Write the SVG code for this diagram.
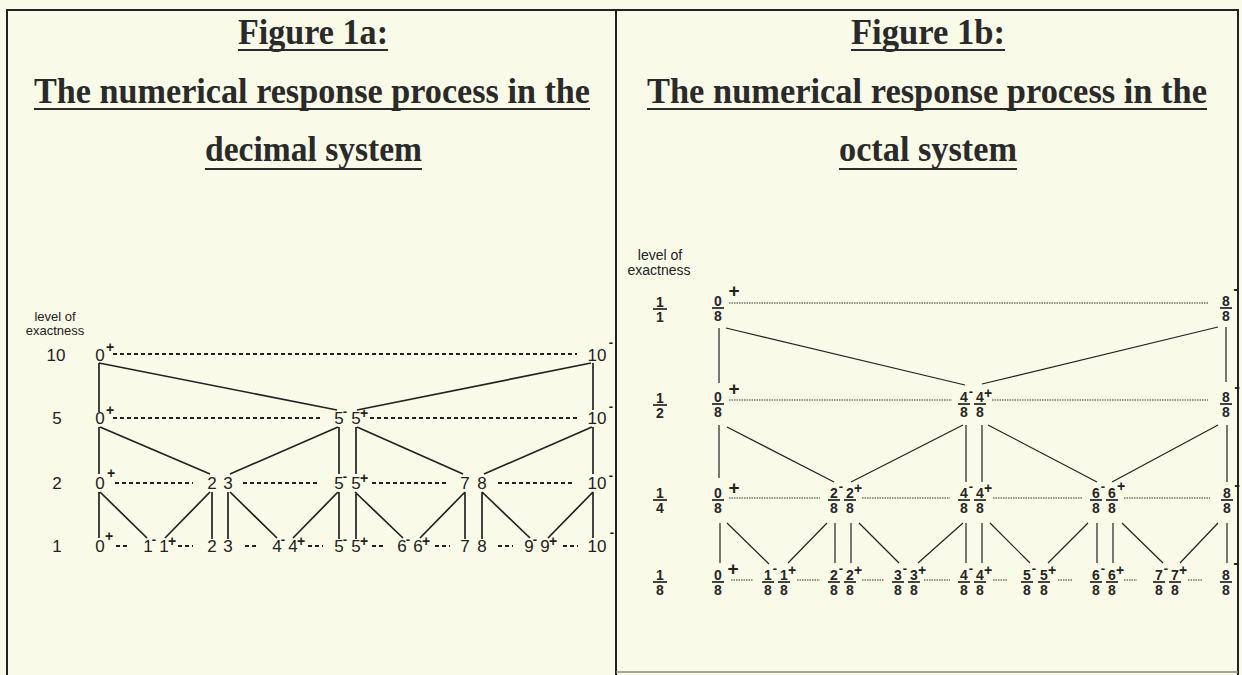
<svg xmlns="http://www.w3.org/2000/svg" width="1242" height="675" viewBox="0 0 1242 675">
<style>
.t{font-family:"Liberation Serif","Times New Roman",serif;font-weight:bold;font-size:35px;fill:#2a2a2a}
.u{stroke:#2a2a2a;stroke-width:2.2}
.n{font-family:"Liberation Sans",Arial,sans-serif;font-size:17px;fill:#222;text-anchor:middle}
.sp{font-family:"Liberation Sans",Arial,sans-serif;font-size:14px;font-weight:bold;fill:#222;text-anchor:middle}
.sm{font-family:"Liberation Sans",Arial,sans-serif;font-size:13px;font-weight:bold;fill:#222;text-anchor:middle}
.f{font-family:"Liberation Sans",Arial,sans-serif;font-size:14px;font-weight:bold;fill:#262626;text-anchor:middle}
.bp{font-family:"Liberation Sans",Arial,sans-serif;font-size:19px;font-weight:bold;fill:#222;text-anchor:middle}
.bm{font-family:"Liberation Sans",Arial,sans-serif;font-size:17px;font-weight:bold;fill:#222;text-anchor:middle}
.lv{font-family:"Liberation Sans",Arial,sans-serif;fill:#222;text-anchor:middle}
.fb{stroke:#222;stroke-width:1.7}
.c{stroke:#222;stroke-width:1.7;fill:none}
.cr{stroke:#222;stroke-width:1.2;fill:none}
.d{stroke:#222;stroke-width:1.8;stroke-dasharray:4 3;fill:none}
.dt{stroke:#333;stroke-width:1.1;stroke-dasharray:1.5 1;fill:none}
.frame{stroke:#222;stroke-width:2;fill:none}
</style>
<rect x="0" y="0" width="1242" height="675" fill="#fafae8"/>
<g id="frame">
<path class="frame" d="M7 675 V10 H1238 V675 M616 10 V675"/>
<path d="M616 672 H1238" stroke="#888" stroke-width="1.5"/>
</g>
<g id="title-a">
<text class="t" x="238" y="44" textLength="150" lengthAdjust="spacingAndGlyphs">Figure 1a:</text>
<line class="u" x1="238" y1="50" x2="388" y2="50"/>
<text class="t" x="34" y="103" textLength="556" lengthAdjust="spacingAndGlyphs">The numerical response process in the</text>
<line class="u" x1="34" y1="109" x2="590" y2="109"/>
<text class="t" x="205" y="161" textLength="217" lengthAdjust="spacingAndGlyphs">decimal system</text>
<line class="u" x1="205" y1="169" x2="422" y2="169"/>
</g>
<g id="title-b">
<text class="t" x="851" y="44" textLength="154" lengthAdjust="spacingAndGlyphs">Figure 1b:</text>
<line class="u" x1="851" y1="50" x2="1005" y2="50"/>
<text class="t" x="647" y="103" textLength="560" lengthAdjust="spacingAndGlyphs">The numerical response process in the</text>
<line class="u" x1="647" y1="109" x2="1207" y2="109"/>
<text class="t" x="839" y="161" textLength="178" lengthAdjust="spacingAndGlyphs">octal system</text>
<line class="u" x1="839" y1="169" x2="1017" y2="169"/>
</g>

<!-- LEFT: decimal -->
<g id="a-levels">
<text class="lv" x="55" y="321" font-size="13">level of</text>
<text class="lv" x="55" y="335" font-size="13">exactness</text>
<text class="n" x="56" y="361">10</text>
<text class="n" x="57" y="424">5</text>
<text class="n" x="57" y="489">2</text>
<text class="n" x="57" y="552">1</text>
</g>
<g id="a-connectors">
<path class="d" d="M113 354 H577"/>
<path class="d" d="M113 418 H323 M370 418 H577"/>
<path class="d" d="M115 483 H193 M243 483 H320 M372 483 H447 M498 483 H575"/>
<path class="d" d="M116 546 H128 M178 546 H193 M245 546 H257 M308 546 H323 M372 546 H385 M435 546 H450 M498 546 H513 M563 546 H578"/>
<path class="c" d="M99 363 V412 M593 363 V410 M99 363 L337 410 M591 363 L357 410"/>
<path class="c" d="M99 427 V474 M593 427 V474 M100 427 L210 474 M338 427 L230 474 M339 427 V474 M356 427 V474 M357 427 L463 474 M592 427 L484 474"/>
<path class="c" d="M99 492 V538 M100 492 L147 538 M210 492 L165 538 M212 492 V539 M228 492 V539 M230 492 L277 538 M338 492 L293 538 M339 492 V539 M356 492 V539 M355 492 L403 538 M465 492 L420 538 M465 492 V539 M482 492 V539 M482 492 L530 538 M593 492 L548 538 M593 492 V538"/>
</g>
<g id="a-r10-0"><text class="n" x="100" y="361">0</text><text class="sp" x="110" y="352">+</text></g>
<g id="a-r10-10"><text class="n" x="597" y="361">10</text><text class="sm" x="611" y="347">-</text></g>
<g id="a-r5-0"><text class="n" x="100" y="424">0</text><text class="sp" x="110" y="415">+</text></g>
<g id="a-r5-5m"><text class="n" x="339" y="424">5</text><text class="sm" x="345" y="416">-</text></g>
<g id="a-r5-5p"><text class="n" x="356" y="424">5</text><text class="sp" x="364" y="418">+</text></g>
<g id="a-r5-10"><text class="n" x="597" y="424">10</text><text class="sm" x="611" y="411">-</text></g>
<g id="a-r2-0"><text class="n" x="100" y="489">0</text><text class="sp" x="111" y="478">+</text></g>
<g id="a-r2-2"><text class="n" x="212" y="489">2</text></g>
<g id="a-r2-3"><text class="n" x="228" y="489">3</text></g>
<g id="a-r2-5m"><text class="n" x="339" y="489">5</text><text class="sm" x="345" y="481">-</text></g>
<g id="a-r2-5p"><text class="n" x="356" y="489">5</text><text class="sp" x="364" y="483">+</text></g>
<g id="a-r2-7"><text class="n" x="465" y="489">7</text></g>
<g id="a-r2-8"><text class="n" x="482" y="489">8</text></g>
<g id="a-r2-10"><text class="n" x="597" y="489">10</text><text class="sm" x="611" y="480">-</text></g>
<g id="a-r1-0"><text class="n" x="100" y="552">0</text><text class="sp" x="109" y="541">+</text></g>
<g id="a-r1-1m"><text class="n" x="148" y="552">1</text><text class="sm" x="154" y="544">-</text></g>
<g id="a-r1-1p"><text class="n" x="164" y="552">1</text><text class="sp" x="172" y="546">+</text></g>
<g id="a-r1-2"><text class="n" x="212" y="552">2</text></g>
<g id="a-r1-3"><text class="n" x="228" y="552">3</text></g>
<g id="a-r1-4m"><text class="n" x="277" y="552">4</text><text class="sm" x="283" y="544">-</text></g>
<g id="a-r1-4p"><text class="n" x="293" y="552">4</text><text class="sp" x="301" y="546">+</text></g>
<g id="a-r1-5m"><text class="n" x="339" y="552">5</text><text class="sm" x="345" y="544">-</text></g>
<g id="a-r1-5p"><text class="n" x="356" y="552">5</text><text class="sp" x="364" y="546">+</text></g>
<g id="a-r1-6m"><text class="n" x="402" y="552">6</text><text class="sm" x="408" y="544">-</text></g>
<g id="a-r1-6p"><text class="n" x="418" y="552">6</text><text class="sp" x="426" y="546">+</text></g>
<g id="a-r1-7"><text class="n" x="465" y="552">7</text></g>
<g id="a-r1-8"><text class="n" x="482" y="552">8</text></g>
<g id="a-r1-9m"><text class="n" x="529" y="552">9</text><text class="sm" x="535" y="544">-</text></g>
<g id="a-r1-9p"><text class="n" x="545" y="552">9</text><text class="sp" x="553" y="546">+</text></g>
<g id="a-r1-10"><text class="n" x="597" y="552">10</text><text class="sm" x="612" y="537">-</text></g>

<!-- RIGHT: octal -->
<g id="b-levels">
<text class="lv" x="660" y="260" font-size="14">level of</text>
<text class="lv" x="659" y="275" font-size="14">exactness</text>
<text class="f" x="660" y="307">1</text><line class="fb" x1="653" y1="309" x2="667" y2="309"/><text class="f" x="660" y="322">1</text>
<text class="f" x="660" y="403">1</text><line class="fb" x1="653" y1="405" x2="667" y2="405"/><text class="f" x="660" y="418">2</text>
<text class="f" x="660" y="498">1</text><line class="fb" x1="653" y1="500" x2="667" y2="500"/><text class="f" x="660" y="513">4</text>
<text class="f" x="660" y="580">1</text><line class="fb" x1="653" y1="582" x2="667" y2="582"/><text class="f" x="660" y="595">8</text>
</g>
<g id="b-connectors">
<path class="dt" d="M729 303 H1208"/>
<path class="dt" d="M729 400 H952 M992 400 H1208"/>
<path class="dt" d="M729 498 H820 M862 498 H950 M993 498 H1082 M1124 498 H1210"/>
<path class="dt" d="M731 580 H753 M797 580 H820 M862 580 H884 M924 580 H950 M993 580 H1008 M1058 580 H1073 M1124 580 H1137 M1188 580 H1202"/>
<path class="cr" d="M719 328 V383 M1226 327 V382 M726 328 L965 385 M1218 327 L982 384"/>
<path class="cr" d="M719 425 V478 M966 425 V482 M982 425 V482 M1227 425 V482 M727 427 L834 482 M963 425 L851 482 M988 425 L1097 482 M1218 425 L1112 482"/>
<path class="cr" d="M720 523 V563 M835 523 V563 M851 523 V563 M966 523 V563 M982 523 V563 M1097 523 V563 M1113 523 V563 M1227 523 V563 M727 523 L769 564 M827 523 L788 563 M859 523 L899 563 M963 523 L918 563 M990 523 L1030 563 M1088 523 L1048 563 M1122 523 L1163 563 M1218 523 L1180 563"/>
</g>
<!-- row 1/1 -->
<g id="b-r1-0"><text class="f" x="718" y="306">0</text><line class="fb" x1="712" y1="308" x2="724" y2="308"/><text class="f" x="718" y="321">8</text><text class="bp" x="734" y="297">+</text></g>
<g id="b-r1-8"><text class="f" x="1226" y="306">8</text><line class="fb" x1="1220" y1="308" x2="1232" y2="308"/><text class="f" x="1226" y="321">8</text><text class="bm" x="1236" y="294">-</text></g>
<!-- row 1/2 -->
<g id="b-r2-0"><text class="f" x="718" y="402">0</text><line class="fb" x1="712" y1="404" x2="724" y2="404"/><text class="f" x="718" y="417">8</text><text class="bp" x="734" y="395">+</text></g>
<g id="b-r2-4m"><text class="f" x="964" y="402">4</text><line class="fb" x1="958" y1="404" x2="970" y2="404"/><text class="f" x="964" y="417">8</text><text class="sm" x="971" y="396">-</text></g>
<g id="b-r2-4p"><text class="f" x="980" y="402">4</text><line class="fb" x1="974" y1="404" x2="986" y2="404"/><text class="f" x="980" y="417">8</text><text class="sp" x="988" y="398">+</text></g>
<g id="b-r2-8"><text class="f" x="1226" y="402">8</text><line class="fb" x1="1220" y1="404" x2="1232" y2="404"/><text class="f" x="1226" y="417">8</text><text class="bm" x="1237" y="392">-</text></g>
<!-- row 1/4 -->
<g id="b-r4-0"><text class="f" x="718" y="498">0</text><line class="fb" x1="712" y1="500" x2="724" y2="500"/><text class="f" x="718" y="513">8</text><text class="bp" x="734" y="494">+</text></g>
<g id="b-r4-2m"><text class="f" x="834" y="498">2</text><line class="fb" x1="828" y1="500" x2="840" y2="500"/><text class="f" x="834" y="513">8</text><text class="sm" x="841" y="491">-</text></g>
<g id="b-r4-2p"><text class="f" x="850" y="498">2</text><line class="fb" x1="844" y1="500" x2="856" y2="500"/><text class="f" x="850" y="513">8</text><text class="sp" x="858" y="493">+</text></g>
<g id="b-r4-4m"><text class="f" x="964" y="498">4</text><line class="fb" x1="958" y1="500" x2="970" y2="500"/><text class="f" x="964" y="513">8</text><text class="sm" x="971" y="491">-</text></g>
<g id="b-r4-4p"><text class="f" x="980" y="498">4</text><line class="fb" x1="974" y1="500" x2="986" y2="500"/><text class="f" x="980" y="513">8</text><text class="sp" x="988" y="493">+</text></g>
<g id="b-r4-6m"><text class="f" x="1096" y="498">6</text><line class="fb" x1="1090" y1="500" x2="1102" y2="500"/><text class="f" x="1096" y="513">8</text><text class="sm" x="1103" y="491">-</text></g>
<g id="b-r4-6p"><text class="f" x="1112" y="498">6</text><line class="fb" x1="1106" y1="500" x2="1118" y2="500"/><text class="f" x="1112" y="513">8</text><text class="sp" x="1121" y="491">+</text></g>
<g id="b-r4-8"><text class="f" x="1227" y="498">8</text><line class="fb" x1="1221" y1="500" x2="1233" y2="500"/><text class="f" x="1227" y="513">8</text><text class="bm" x="1237" y="490">-</text></g>
<!-- row 1/8 -->
<g id="b-r8-0"><text class="f" x="718" y="580">0</text><line class="fb" x1="712" y1="582" x2="724" y2="582"/><text class="f" x="718" y="595">8</text><text class="bp" x="733" y="575">+</text></g>
<g id="b-r8-1m"><text class="f" x="768" y="580">1</text><line class="fb" x1="762" y1="582" x2="774" y2="582"/><text class="f" x="768" y="595">8</text><text class="sm" x="775" y="573">-</text></g>
<g id="b-r8-1p"><text class="f" x="784" y="580">1</text><line class="fb" x1="778" y1="582" x2="790" y2="582"/><text class="f" x="784" y="595">8</text><text class="sp" x="792" y="575">+</text></g>
<g id="b-r8-2m"><text class="f" x="834" y="580">2</text><line class="fb" x1="828" y1="582" x2="840" y2="582"/><text class="f" x="834" y="595">8</text><text class="sm" x="841" y="573">-</text></g>
<g id="b-r8-2p"><text class="f" x="850" y="580">2</text><line class="fb" x1="844" y1="582" x2="856" y2="582"/><text class="f" x="850" y="595">8</text><text class="sp" x="858" y="575">+</text></g>
<g id="b-r8-3m"><text class="f" x="898" y="580">3</text><line class="fb" x1="892" y1="582" x2="904" y2="582"/><text class="f" x="898" y="595">8</text><text class="sm" x="905" y="573">-</text></g>
<g id="b-r8-3p"><text class="f" x="914" y="580">3</text><line class="fb" x1="908" y1="582" x2="920" y2="582"/><text class="f" x="914" y="595">8</text><text class="sp" x="922" y="575">+</text></g>
<g id="b-r8-4m"><text class="f" x="964" y="580">4</text><line class="fb" x1="958" y1="582" x2="970" y2="582"/><text class="f" x="964" y="595">8</text><text class="sm" x="971" y="573">-</text></g>
<g id="b-r8-4p"><text class="f" x="980" y="580">4</text><line class="fb" x1="974" y1="582" x2="986" y2="582"/><text class="f" x="980" y="595">8</text><text class="sp" x="988" y="575">+</text></g>
<g id="b-r8-5m"><text class="f" x="1027" y="580">5</text><line class="fb" x1="1021" y1="582" x2="1033" y2="582"/><text class="f" x="1027" y="595">8</text><text class="sm" x="1034" y="573">-</text></g>
<g id="b-r8-5p"><text class="f" x="1044" y="580">5</text><line class="fb" x1="1038" y1="582" x2="1050" y2="582"/><text class="f" x="1044" y="595">8</text><text class="sp" x="1052" y="575">+</text></g>
<g id="b-r8-6m"><text class="f" x="1096" y="580">6</text><line class="fb" x1="1090" y1="582" x2="1102" y2="582"/><text class="f" x="1096" y="595">8</text><text class="sm" x="1103" y="573">-</text></g>
<g id="b-r8-6p"><text class="f" x="1112" y="580">6</text><line class="fb" x1="1106" y1="582" x2="1118" y2="582"/><text class="f" x="1112" y="595">8</text><text class="sp" x="1120" y="575">+</text></g>
<g id="b-r8-7m"><text class="f" x="1159" y="580">7</text><line class="fb" x1="1153" y1="582" x2="1165" y2="582"/><text class="f" x="1159" y="595">8</text><text class="sm" x="1166" y="573">-</text></g>
<g id="b-r8-7p"><text class="f" x="1175" y="580">7</text><line class="fb" x1="1169" y1="582" x2="1181" y2="582"/><text class="f" x="1175" y="595">8</text><text class="sp" x="1183" y="575">+</text></g>
<g id="b-r8-8"><text class="f" x="1226" y="580">8</text><line class="fb" x1="1220" y1="582" x2="1232" y2="582"/><text class="f" x="1226" y="595">8</text><text class="bm" x="1236" y="568">-</text></g>
</svg>
